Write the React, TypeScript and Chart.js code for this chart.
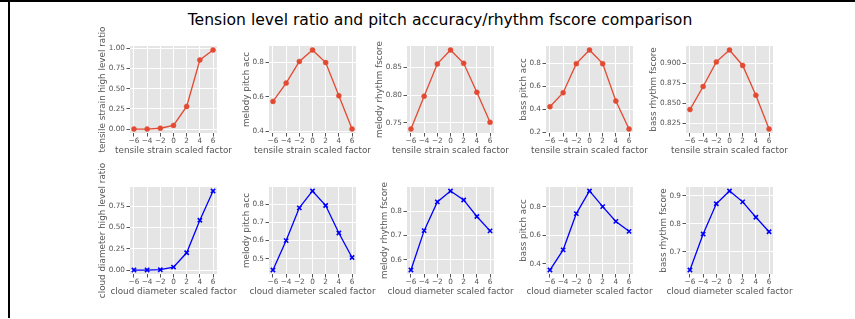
import React, { useEffect, useRef } from "react";
import { Chart, registerables } from "chart.js";

Chart.register(...registerables);

// ---------- data ----------
const X_VALUES = [-6, -4, -2, 0, 2, 4, 6];
const X_TICKS = [-6, -4, -2, 0, 2, 4, 6];

const TENSILE_RATIO = [0, 0, 0.01, 0.045, 0.28, 0.856, 0.98];
const TENSILE_MELODY_PITCH = [0.573, 0.679, 0.804, 0.871, 0.798, 0.606, 0.413];
const TENSILE_MELODY_RHYTHM = [0.739, 0.798, 0.856, 0.881, 0.857, 0.805, 0.751];
const TENSILE_BASS_PITCH = [0.423, 0.545, 0.797, 0.916, 0.797, 0.472, 0.229];
const TENSILE_BASS_RHYTHM = [0.842, 0.871, 0.902, 0.917, 0.8975, 0.86, 0.8175];

const CLOUD_RATIO = [0, 0, 0.004, 0.035, 0.203, 0.586, 0.93];
const CLOUD_MELODY_PITCH = [0.438, 0.6, 0.78, 0.873, 0.793, 0.642, 0.507];
const CLOUD_MELODY_RHYTHM = [0.558, 0.72, 0.838, 0.883, 0.846, 0.778, 0.719];
const CLOUD_BASS_PITCH = [0.356, 0.498, 0.753, 0.912, 0.802, 0.698, 0.628];
const CLOUD_BASS_RHYTHM = [0.635, 0.764, 0.872, 0.918, 0.879, 0.824, 0.772];

const TENSILE_Y_TICKS = [
  [0, 0.25, 0.5, 0.75, 1.0],
  [0.4, 0.6, 0.8],
  [0.75, 0.8, 0.85],
  [0.2, 0.4, 0.6, 0.8],
  [0.825, 0.85, 0.875, 0.9],
];
const TENSILE_Y_DECIMALS = [2, 1, 2, 1, 3];

const CLOUD_Y_TICKS = [
  [0, 0.25, 0.5, 0.75],
  [0.5, 0.6, 0.7, 0.8],
  [0.6, 0.7, 0.8],
  [0.4, 0.6, 0.8],
  [0.7, 0.8, 0.9],
];
const CLOUD_Y_DECIMALS = [2, 1, 1, 1, 1];

const TENSILE_Y_LABELS = [
  "tensile strain high level ratio",
  "melody pitch acc",
  "melody rhythm fscore",
  "bass pitch acc",
  "bass rhythm fscore",
];
const CLOUD_Y_LABELS = [
  "cloud diameter high level ratio",
  "melody pitch acc",
  "melody rhythm fscore",
  "bass pitch acc",
  "bass rhythm fscore",
];
const TENSILE_X_LABEL = "tensile strain scaled factor";
const CLOUD_X_LABEL = "cloud diameter scaled factor";
const TITLE = "Tension level ratio and pitch accuracy/rhythm fscore comparison";

const TENSILE_SERIES = [TENSILE_RATIO, TENSILE_MELODY_PITCH, TENSILE_MELODY_RHYTHM, TENSILE_BASS_PITCH, TENSILE_BASS_RHYTHM];
const CLOUD_SERIES = [CLOUD_RATIO, CLOUD_MELODY_PITCH, CLOUD_MELODY_RHYTHM, CLOUD_BASS_PITCH, CLOUD_BASS_RHYTHM];

// ---------- layout ----------
const COL_X = [130, 269, 407, 546, 686];
const ROW_Y = [46, 187];
const PLOT_W = 87;
const PLOT_H = 87;
const PAD_L = 60;
const PAD_T = 32;
const PAD_R = 40;
const PAD_B = 34;

const FONT = '"DejaVu Sans", sans-serif';
const TICK_SIZE = 7.3;
const LABEL_SIZE = 8.8;
const TEXT_GRAY = "#555555";
const TICK_LEN = 3.5;
const TICK_PAD = 1.5;

const fmtX = (v: number) => String(v).replace("-", "\u2212");

const bgPlugin = {
  id: "plotBg",
  beforeDraw(chart: any) {
    const { ctx, chartArea } = chart;
    ctx.save();
    ctx.fillStyle = "#E5E5E5";
    ctx.fillRect(chartArea.left, chartArea.top, chartArea.width, chartArea.height);
    ctx.restore();
  },
};

const axisTitlePlugin = {
  id: "axisTitles",
  afterDraw(chart: any, _args: any, opts: any) {
    const { ctx, chartArea } = chart;
    ctx.save();
    ctx.fillStyle = TEXT_GRAY;
    ctx.font = `${LABEL_SIZE}px ${FONT}`;
    ctx.textAlign = "center";
    ctx.textBaseline = "middle";
    // x title
    ctx.fillText(opts.xTitle, (chartArea.left + chartArea.right) / 2, chartArea.bottom + 17.5);
    // y title
    ctx.font = `${TICK_SIZE}px ${FONT}`;
    let maxW = 0;
    for (const t of chart.scales.y.ticks) {
      const w = ctx.measureText(String(t.label)).width;
      if (w > maxW) maxW = w;
    }
    ctx.font = `${LABEL_SIZE}px ${FONT}`;
    const x = chartArea.left - TICK_LEN - TICK_PAD - maxW - 1.5 - LABEL_SIZE / 2;
    ctx.translate(x, (chartArea.top + chartArea.bottom) / 2);
    ctx.rotate(-Math.PI / 2);
    ctx.fillText(opts.yTitle, 0, 0);
    ctx.restore();
  },
};

type PanelProps = {
  values: number[];
  yTicks: number[];
  decimals: number;
  xTitle: string;
  yTitle: string;
  color: string;
  marker: string;
  left: number;
  top: number;
};

function Panel(p: PanelProps) {
  const ref = useRef<HTMLCanvasElement>(null);
  useEffect(() => {
    if (!ref.current) return;
    const dmin = Math.min(...p.values);
    const dmax = Math.max(...p.values);
    const r = dmax - dmin;
    const gridCommon = {
      color: "#FFFFFF",
      lineWidth: 1,
      tickColor: TEXT_GRAY,
      tickLength: TICK_LEN,
      drawTicks: true,
      drawOnChartArea: true,
    };
    const chart = new Chart(ref.current, {
      type: "line",
      data: {
        datasets: [
          {
            data: X_VALUES.map((x, i) => ({ x, y: p.values[i] })),
            borderColor: p.color,
            backgroundColor: p.color,
            borderWidth: 1.3,
            pointStyle: p.marker as any,
            pointRadius: p.marker === "circle" ? 2.5 : 3,
            pointBorderWidth: p.marker === "circle" ? 0.5 : 1.6,
            pointBackgroundColor: p.color,
            pointBorderColor: p.color,
            tension: 0,
            fill: false,
            clip: false as any,
          },
        ],
      },
      options: {
        animation: false,
        responsive: false,
        maintainAspectRatio: false,
        devicePixelRatio: 1,
        events: [],
        layout: { padding: { left: 0, top: PAD_T, right: PAD_R, bottom: 0 } },
        plugins: {
          legend: { display: false },
          tooltip: { enabled: false },
          title: { display: false },
          axisTitles: { xTitle: p.xTitle, yTitle: p.yTitle },
        } as any,
        scales: {
          x: {
            type: "linear",
            min: -6.6,
            max: 6.6,
            afterBuildTicks: (s: any) => {
              s.ticks = X_TICKS.map((v) => ({ value: v }));
            },
            afterFit: (s: any) => {
              s.height = PAD_B;
            },
            grid: gridCommon,
            border: { display: false },
            ticks: {
              color: TEXT_GRAY,
              font: { family: FONT, size: TICK_SIZE },
              padding: 0,
              autoSkip: false,
              maxRotation: 0,
              minRotation: 0,
              callback: (v: any) => fmtX(Number(v)),
            },
          },
          y: {
            type: "linear",
            min: dmin - 0.05 * r,
            max: dmax + 0.05 * r,
            afterBuildTicks: (s: any) => {
              s.ticks = p.yTicks.map((v) => ({ value: v }));
            },
            afterFit: (s: any) => {
              s.width = PAD_L;
            },
            grid: gridCommon,
            border: { display: false },
            ticks: {
              color: TEXT_GRAY,
              font: { family: FONT, size: TICK_SIZE },
              padding: TICK_PAD,
              autoSkip: false,
              callback: (v: any) => Number(v).toFixed(p.decimals),
            },
          },
        },
      } as any,
      plugins: [bgPlugin, axisTitlePlugin],
    });
    return () => chart.destroy();
  }, []);
  const w = PAD_L + PLOT_W + PAD_R;
  const h = PAD_T + PLOT_H + PAD_B;
  return (
    <canvas
      ref={ref}
      width={w}
      height={h}
      style={{
        position: "absolute",
        left: p.left - PAD_L,
        top: p.top - PAD_T,
        width: w,
        height: h,
      }}
    />
  );
}

export default function App() {
  const rows = [
    { series: TENSILE_SERIES, ticks: TENSILE_Y_TICKS, dec: TENSILE_Y_DECIMALS, ylabels: TENSILE_Y_LABELS, xlabel: TENSILE_X_LABEL, color: "#E24A33", marker: "circle" },
    { series: CLOUD_SERIES, ticks: CLOUD_Y_TICKS, dec: CLOUD_Y_DECIMALS, ylabels: CLOUD_Y_LABELS, xlabel: CLOUD_X_LABEL, color: "#0000FF", marker: "crossRot" },
  ];
  return (
    <div
      style={{
        position: "absolute",
        left: 0,
        top: 0,
        width: 855,
        height: 319,
        background: "#FFFFFF",
        overflow: "hidden",
      }}
    >
      <div style={{ position: "absolute", left: 0, top: 0, width: 855, height: 2, background: "#000" }} />
      <div style={{ position: "absolute", left: 8, top: 0, width: 2, height: 318, background: "#000" }} />
      <div
        style={{
          position: "absolute",
          left: 0,
          width: 880,
          top: 11,
          textAlign: "center",
          fontFamily: FONT,
          fontSize: 15.6,
          lineHeight: "18px",
          color: "#000",
          whiteSpace: "nowrap",
        }}
      >
        {TITLE}
      </div>
      {rows.map((row, ri) =>
        row.series.map((vals, ci) => (
          <Panel
            key={`${ri}-${ci}`}
            values={vals}
            yTicks={row.ticks[ci]}
            decimals={row.dec[ci]}
            xTitle={row.xlabel}
            yTitle={row.ylabels[ci]}
            color={row.color}
            marker={row.marker}
            left={COL_X[ci]}
            top={ROW_Y[ri]}
          />
        ))
      )}
    </div>
  );
}
